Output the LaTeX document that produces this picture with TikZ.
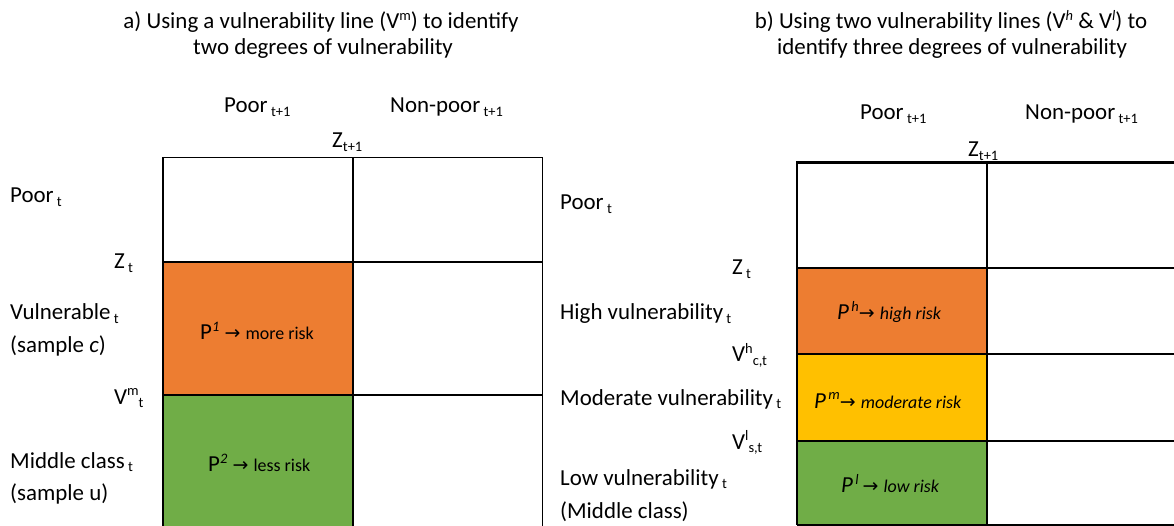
\documentclass[tikz,border=0pt]{standalone}
\usepackage{fontspec}
\setmainfont{Carlito}
\newfontfamily\arrowfont{DejaVu Sans}
\newcommand\lsub[1]{{\fontsize{14.5}{14.5}\selectfont\ \raisebox{-3.4bp}{#1}}}
\newcommand\nsub[1]{{\fontsize{14.5}{14.5}\selectfont\raisebox{-3.4bp}{#1}}}
\newcommand\nsup[1]{{\fontsize{14.5}{14.5}\selectfont\raisebox{8.5bp}{#1}}}
\newcommand\rarr{{\arrowfont\fontsize{19}{19}\selectfont →}}
\newcommand\cellsize{\fontsize{18}{18}\selectfont}
\definecolor{orangecell}{HTML}{ED7D31}
\definecolor{yellowcell}{HTML}{FFC000}
\definecolor{greencell}{HTML}{70AD47}
\tikzset{
  lbl/.style={anchor=base west, inner sep=0pt, font=\fontsize{23}{27}\selectfont},
  ttl/.style={anchor=base, inner sep=0pt, font=\fontsize{23}{27}\selectfont},
  gridA/.style={line width=1.6bp, black},
  gridB/.style={line width=2.4bp, black},
}
\begin{document}
\begin{tikzpicture}[x=1bp, y=-1bp]
\useasboundingbox (0,0) rectangle (1174,526);
\clip (0,0) rectangle (1174,526);
% fills
\fill[orangecell] (162.7,262.3) rectangle (352.7,395);
\fill[greencell] (162.7,395) rectangle (352.7,530);
\fill[orangecell] (796.7,268.3) rectangle (986.7,354.3);
\fill[yellowcell] (796.7,354.3) rectangle (986.7,441);
\fill[greencell] (796.7,441) rectangle (986.7,524.8);
% left grid
\draw[gridA] (162.7,530) -- (162.7,157.7) -- (542.3,157.7) -- (542.3,530);
\draw[gridA] (352.7,157.7) -- (352.7,530);
\draw[gridA] (162.7,262.3) -- (542.3,262.3);
\draw[gridA] (162.7,395) -- (542.3,395);
% right grid
\draw[gridB] (796.7,524.8) -- (796.7,162.7) -- (1180,162.7);
\draw[gridB] (986.7,162.7) -- (986.7,524.8);
\draw[gridB] (796.7,268.3) -- (1180,268.3);
\draw[gridB] (796.7,354.3) -- (1180,354.3);
\draw[gridB] (796.7,441) -- (1180,441);
\draw[gridB] (796.7,524.8) -- (1180,524.8);
% titles
\node[ttl] (ta1) at (321,29) {a) Using a vulnerability line (V\nsup{m}) to identify};
\node[ttl] (ta2) at (323,55) {two degrees of vulnerability};
\node[ttl] (tb1) at (951,29) {b) Using two vulnerability lines (V\nsup{\textit{h}} \& V\nsup{\textit{l}}) to};
\node[ttl] (tb2) at (952,55) {identify three degrees of vulnerability};
% left labels
\node[lbl] (poorA) at (224,113) {Poor\lsub{t+1}};
\node[lbl] (nonpoorA) at (390,113) {Non-poor\lsub{t+1}};
\node[lbl] (zA) at (332,148) {Z\nsub{t+1}};
\node[lbl] (poortA) at (10,203) {Poor\lsub{t}};
\node[lbl] (ztA) at (114,269) {Z\lsub{t}};
\node[lbl] (vulnA) at (10,320) {Vulnerable\lsub{t}};
\node[lbl] (sampcA) at (10,353) {(sample \textit{c})};
\node[lbl] (vmA) at (114,404) {V\nsup{m}\nsub{t}};
\node[lbl] (midA) at (10,468) {Middle class\lsub{t}};
\node[lbl] (sampuA) at (10,500) {(sample u)};
\node[lbl] (p1) at (200,340) {P\nsup{\textit{1}} \rarr{} {\cellsize more risk}};
\node[lbl] (p2) at (208,471.5) {P\nsup{\textit{2}} \rarr{} {\cellsize less risk}};
% right labels
\node[lbl] (poorB) at (860,120) {Poor\lsub{t+1}};
\node[lbl] (nonpoorB) at (1025,120) {Non-poor\lsub{t+1}};
\node[lbl] (zB) at (968,157) {Z\nsub{t+1}};
\node[lbl] (poortB) at (560,210) {Poor\lsub{t}};
\node[lbl] (ztB) at (732,275) {Z\lsub{t}};
\node[lbl] (highB) at (560,320) {High vulnerability\lsub{t}};
\node[lbl] (vhB) at (732,361.7) {V\nsup{h}\nsub{c,t}};
\node[lbl] (modB) at (560,405) {Moderate vulnerability\lsub{t}};
\node[lbl] (vlB) at (732,449) {V\nsup{l}\nsub{s,t}};
\node[lbl] (lowB) at (560,485) {Low vulnerability\lsub{t}};
\node[lbl] (midB) at (560,518) {(Middle class)};
\node[lbl] (ph) at (837,320) {\textit{P}\nsup{\,\textit{h}}\rarr{} {\cellsize\itshape high risk}};
\node[lbl] (pm) at (814,408) {\textit{P}\nsup{\,\textit{m}}\rarr{} {\cellsize\itshape moderate risk}};
\node[lbl] (pl) at (841,492.7) {\textit{P}\nsup{\,\textit{l}}\,\rarr{} {\cellsize\itshape low risk}};
\end{tikzpicture}
\end{document}
